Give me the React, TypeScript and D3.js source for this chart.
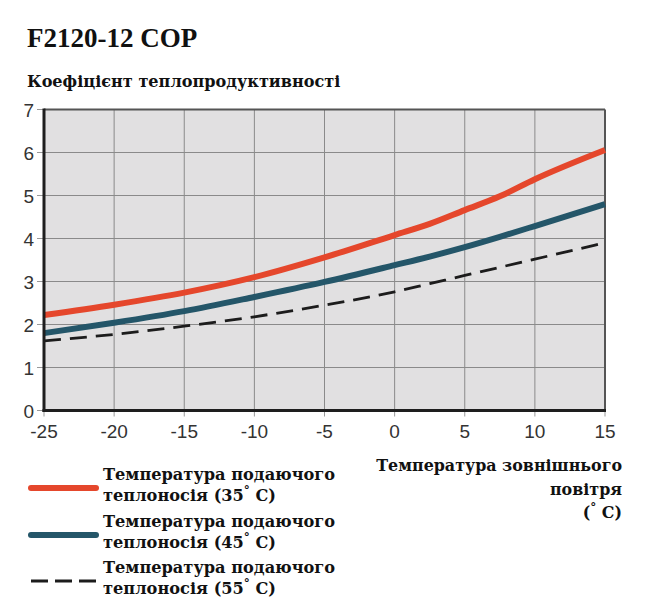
import React from "react";
import * as d3 from "d3";

// outdoor temperature (°C) along the x axis
const temps = [-25, -20, -15, -10, -5, 0, 2.5, 5, 7.5, 10, 15];

// COP per supply temperature
const cop35 = [2.22, 2.46, 2.74, 3.1, 3.56, 4.08, 4.34, 4.66, 4.98, 5.38, 6.06];
const cop45 = [1.8, 2.04, 2.31, 2.64, 2.99, 3.38, 3.58, 3.8, 4.04, 4.29, 4.8];
const cop55 = [1.62, 1.77, 1.96, 2.18, 2.45, 2.76, 2.95, 3.14, 3.33, 3.52, 3.9];

const xTicks = [-25, -20, -15, -10, -5, 0, 5, 10, 15];
const yTicks = [0, 1, 2, 3, 4, 5, 6, 7];

const serif = "'DejaVu Serif', serif";
const sans = "'Liberation Sans', Arial, sans-serif";

const series = [
  { name: "35", values: cop35, color: "#e5472c", width: 6, dash: "" },
  { name: "45", values: cop45, color: "#245669", width: 6, dash: "" },
  { name: "55", values: cop55, color: "#1c1c1c", width: 2.8, dash: "17,9" },
];

export default function App() {
  const width = 650;
  const height = 610;
  const x = d3.scaleLinear().domain([-25, 15]).range([44, 605]);
  const y = d3.scaleLinear().domain([0, 7]).range([410.5, 109.5]);

  const line = d3
    .line<number>()
    .x((_, i) => x(temps[i]))
    .y((d) => y(d))
    .curve(d3.curveMonotoneX);

  const legendRows = [
    { s: series[0], y0: 480 },
    { s: series[1], y0: 527 },
    { s: series[2], y0: 573 },
  ];

  return (
    <svg
      width={width}
      height={height}
      style={{ position: "absolute", left: 0, top: 0, background: "#fff" }}
    >
      <text x={27} y={47} fontFamily="'Liberation Serif', serif" fontWeight="bold" fontSize={27} fill="#111">
        F2120-12 COP
      </text>
      <text x={27} y={87} fontFamily={serif} fontWeight="bold" fontSize={16.1} fill="#111">
        Коефіцієнт теплопродуктивності
      </text>

      {/* plot background */}
      <rect x={x(-25)} y={y(7)} width={x(15) - x(-25)} height={y(0) - y(7)} fill="#e1e0e1" />

      {/* grid */}
      {xTicks.slice(1, -1).map((t) => (
        <line key={"gx" + t} x1={x(t)} x2={x(t)} y1={y(0)} y2={y(7)} stroke="#8a8a8a" strokeWidth={1} />
      ))}
      {yTicks.slice(1, -1).map((t) => (
        <line key={"gy" + t} x1={x(-25)} x2={x(15)} y1={y(t)} y2={y(t)} stroke="#8a8a8a" strokeWidth={1} />
      ))}

      {/* top / right border */}
      <line x1={x(-25)} x2={x(15)} y1={y(7)} y2={y(7)} stroke="#555" strokeWidth={2} />
      <line x1={x(15)} x2={x(15)} y1={y(7)} y2={y(0)} stroke="#555" strokeWidth={2} />

      {/* ticks and labels */}
      {yTicks.map((t) => (
        <g key={"yt" + t}>
          <line x1={x(-25) - 7} x2={x(-25)} y1={y(t)} y2={y(t)} stroke="#999" strokeWidth={1} />
          <text x={34} y={y(t) + 7} textAnchor="end" fontFamily={sans} fontSize={19} fill="#333">
            {t}
          </text>
        </g>
      ))}
      {xTicks.map((t) => (
        <g key={"xt" + t}>
          <line x1={x(t)} x2={x(t)} y1={y(0)} y2={y(0) + 6} stroke="#999" strokeWidth={1} />
          <text x={x(t)} y={438} textAnchor="middle" fontFamily={sans} fontSize={19} fill="#333">
            {t}
          </text>
        </g>
      ))}

      {/* series */}
      {series.map((s) => (
        <path
          key={s.name}
          d={line(s.values) ?? ""}
          fill="none"
          stroke={s.color}
          strokeWidth={s.width}
          strokeDasharray={s.dash}
          strokeLinecap="butt"
        />
      ))}

      {/* main axes */}
      <line x1={x(-25)} x2={x(-25)} y1={y(7) - 1} y2={y(0) + 1.5} stroke="#1e1e1e" strokeWidth={3} />
      <line x1={x(-25) - 1.5} x2={x(15) + 1} y1={y(0)} y2={y(0)} stroke="#1e1e1e" strokeWidth={3} />

      {/* legend */}
      {legendRows.map(({ s, y0 }) => (
        <g key={"lg" + s.name}>
          <line
            x1={31}
            x2={96}
            y1={y0 + 8}
            y2={y0 + 8}
            stroke={s.color}
            strokeWidth={s.width}
            strokeDasharray={s.dash ? "17,7" : ""}
            strokeLinecap={s.dash ? "butt" : "round"}
          />
          <text x={103} y={y0} fontFamily={serif} fontWeight="bold" fontSize={16.2} fill="#111">
            Температура подаючого
          </text>
          <text x={103} y={y0 + 21} fontFamily={serif} fontWeight="bold" fontSize={16.2} fill="#111">
            теплоносія ({s.name}
            <tspan dy={-6} fontSize={12}>°</tspan>
            <tspan dy={6}> C)</tspan>
          </text>
        </g>
      ))}

      {/* x axis title */}
      <text x={622} y={471} textAnchor="end" fontFamily={serif} fontWeight="bold" fontSize={15.9} fill="#111">
        Температура зовнішнього
      </text>
      <text x={622} y={495} textAnchor="end" fontFamily={serif} fontWeight="bold" fontSize={15.9} fill="#111">
        повітря
      </text>
      <text x={622} y={518} textAnchor="end" fontFamily={serif} fontWeight="bold" fontSize={15.9} fill="#111">
        (<tspan dy={-6} fontSize={12}>°</tspan>
        <tspan dy={6}> C)</tspan>
      </text>
    </svg>
  );
}
